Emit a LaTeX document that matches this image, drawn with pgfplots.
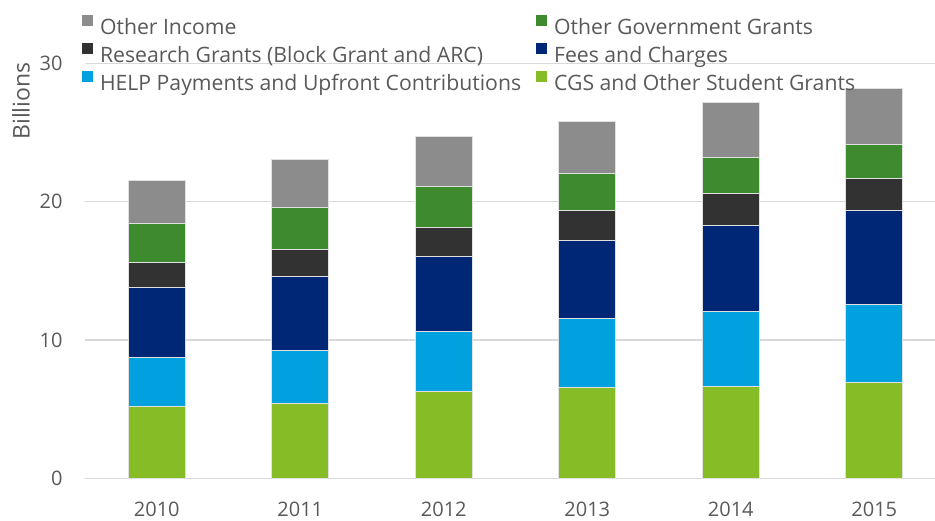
\documentclass[border=0pt]{standalone}
\usepackage{pgfplots}
\usepackage{pgfplotstable}
\pgfplotsset{compat=1.18}
\usepackage{fontspec}
\setmainfont{Open Sans}
\definecolor{txt}{HTML}{595959}
\definecolor{gridc}{HTML}{D9D9D9}
\definecolor{cOther}{HTML}{8C8C8C}
\definecolor{cGov}{HTML}{3D8A2F}
\definecolor{cRes}{HTML}{323232}
\definecolor{cFees}{HTML}{002776}
\definecolor{cHelp}{HTML}{00A1DE}
\definecolor{cCgs}{HTML}{86BC25}
\pgfplotstableread{
x cgs help fees res gov other
0 5.16 3.59 5.06 1.78 2.85 3.11
1 5.42 3.81 5.33 2.00 3.01 3.50
2 6.29 4.29 5.49 2.08 2.91 3.64
3 6.60 4.92 5.69 2.17 2.65 3.78
4 6.67 5.41 6.16 2.37 2.57 3.96
5 6.96 5.59 6.83 2.26 2.48 4.05
}\data
\begin{document}
\begin{tikzpicture}
\begin{axis}[
  at={(0pt,0pt)}, anchor=south west,
  width=425pt, height=207.5pt, scale only axis,
  xmin=-0.5, xmax=5.4233, ymin=0, ymax=30,
  ybar stacked, bar width=28.5pt,
  xtick={0,1,2,3,4,5},
  xticklabels={2010,2011,2012,2013,2014,2015},
  ytick={0,10,20,30},
  ymajorgrids, major grid style={draw=gridc, line width=0.7pt},
  axis line style={draw=none}, major tick length=0pt,
  /pgf/number format/assume math mode=true,
  tick label style={font=\fontsize{10}{12}\selectfont, text=txt},
  xticklabel style={anchor=north, inner sep=0pt, yshift=-11.5pt},
  yticklabel style={anchor=east, inner sep=0pt, xshift=-11pt},
  every axis plot/.append style={draw=black!12, line width=0.5pt},
  legend columns=2, reverse legend, legend cell align=left,
  legend image code/.code={\path[#1, draw=none] (0pt,1.5pt) rectangle (5.5pt,7pt);},
  legend style={
    at={(-0.0035,1.1164)}, anchor=north west, draw=none, fill=none,
    inner sep=0pt, outer sep=0pt, row sep=2.3pt,
    font=\fontsize{10.6}{12}\selectfont, text=txt,
    nodes={inner sep=0pt, outer sep=0pt, text height=7.5pt, text depth=2pt},
    /tikz/column 1/.style={column sep=3.5pt},
    /tikz/column 2/.style={column sep=7.5pt},
    /tikz/column 3/.style={column sep=3.5pt},
  },
]
\addplot[fill=cCgs] table[x=x, y=cgs] {\data};
\addlegendentry{CGS and Other Student Grants}
\addplot[fill=cHelp] table[x=x, y=help] {\data};
\addlegendentry{HELP Payments and Upfront Contributions}
\addplot[fill=cFees] table[x=x, y=fees] {\data};
\addlegendentry{Fees and Charges}
\addplot[fill=cRes] table[x=x, y=res] {\data};
\addlegendentry{Research Grants (Block Grant and ARC)}
\addplot[fill=cGov] table[x=x, y=gov] {\data};
\addlegendentry{Other Government Grants}
\addplot[fill=cOther] table[x=x, y=other] {\data};
\addlegendentry{Other Income}
\end{axis}
\node[rotate=90, anchor=east, inner sep=0pt, text=txt, font=\fontsize{11.5}{13}\selectfont] at (-32pt,208.15pt) {Billions};
\pgfresetboundingbox
\path[use as bounding box] (-42.5pt,-20.85pt) rectangle (425pt,239.15pt);
\end{tikzpicture}
\end{document}
